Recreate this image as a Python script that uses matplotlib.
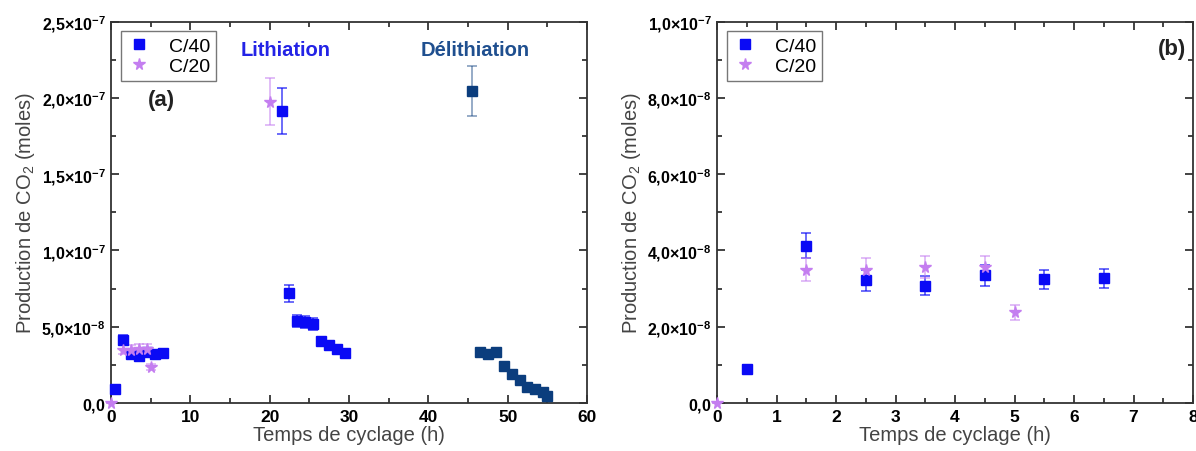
import numpy as np
import matplotlib
matplotlib.use("Agg")
import matplotlib.pyplot as plt
from matplotlib.ticker import MultipleLocator, FuncFormatter

plt.rcParams['font.family'] = ['Liberation Sans', 'DejaVu Sans']
plt.rcParams['mathtext.fontset'] = 'custom'
plt.rcParams['mathtext.rm'] = 'Liberation Sans'
plt.rcParams['mathtext.bf'] = 'Liberation Sans:bold'

# --- donnees (a) ---
t_c40 = [0.5, 1.5, 2.5, 3.5, 4.5, 5.5, 6.5, 21.5, 22.5, 23.5, 24.5, 25.5, 26.5, 27.5, 28.5, 29.5]
co2_c40 = [0.92e-8, 4.13e-8, 3.22e-8, 3.08e-8, 3.35e-8, 3.24e-8, 3.27e-8,
           1.915e-7, 7.2e-8, 5.4e-8, 5.3e-8, 5.2e-8, 4.05e-8, 3.8e-8, 3.55e-8, 3.3e-8]
err_c40 = [0.1e-8, 0.32e-8, 0.27e-8, 0.24e-8, 0.27e-8, 0.25e-8, 0.25e-8,
           1.5e-8, 0.55e-8, 0.4e-8, 0.4e-8, 0.4e-8, 0.2e-8, 0.15e-8, 0.15e-8, 0.15e-8]

t_c20 = [0.0, 1.5, 2.5, 3.5, 4.5, 5.0, 20.0]
co2_c20 = [0.0, 3.5e-8, 3.5e-8, 3.57e-8, 3.57e-8, 2.38e-8, 1.975e-7]
err_c20 = [0.0, 0.3e-8, 0.3e-8, 0.28e-8, 0.28e-8, 0.2e-8, 1.55e-8]

t_delith = [45.5, 46.5, 47.5, 48.5, 49.5, 50.5, 51.5, 52.5, 53.5, 54.5, 55.0]
co2_delith = [2.045e-7, 3.32e-8, 3.22e-8, 3.36e-8, 2.43e-8, 1.92e-8, 1.52e-8,
              1.07e-8, 0.9e-8, 0.75e-8, 0.48e-8]
err_delith = [1.65e-8, 0.1e-8, 0.1e-8, 0.1e-8, 0.1e-8, 0.1e-8, 0.1e-8,
              0.1e-8, 0.1e-8, 0.1e-8, 0.1e-8]

# --- donnees (b) ---
t_b40 = [0.5, 1.5, 2.5, 3.5, 4.5, 5.5, 6.5]
co2_b40 = [0.9e-8, 4.13e-8, 3.22e-8, 3.08e-8, 3.35e-8, 3.24e-8, 3.27e-8]
err_b40 = [0.1e-8, 0.32e-8, 0.27e-8, 0.24e-8, 0.27e-8, 0.25e-8, 0.25e-8]
t_b20 = [0.0, 1.5, 2.5, 3.5, 4.5, 5.0]
co2_b20 = [0.0, 3.5e-8, 3.5e-8, 3.57e-8, 3.57e-8, 2.38e-8]
err_b20 = [0.0, 0.3e-8, 0.3e-8, 0.28e-8, 0.28e-8, 0.2e-8]

blue = '#0a0af5'
violet = '#c47ef0'
navy = '#0b3d7d'


def sci(v, pos):
    if abs(v) < 1e-20:
        return r'$\mathbf{0{,}0}$'
    e = int(np.floor(np.log10(abs(v)) + 1e-9))
    m = v / 10 ** e
    s = ('%.1f' % m).replace('.', '{,}')
    return r'$\mathbf{%s{\times}10^{%d}}$' % (s, e)


def style(ax, xmaj, xmin, ymaj, ymin):
    ax.xaxis.set_major_locator(MultipleLocator(xmaj))
    ax.xaxis.set_minor_locator(MultipleLocator(xmin))
    ax.yaxis.set_major_locator(MultipleLocator(ymaj))
    ax.yaxis.set_minor_locator(MultipleLocator(ymin))
    ax.yaxis.set_major_formatter(FuncFormatter(sci))
    ax.tick_params(which='both', direction='in', top=True, right=True, width=1.2, color='#222222')
    ax.tick_params(which='major', length=6, labelsize=11.5, pad=4)
    ax.tick_params(axis='x', which='major', labelsize=12.5)
    ax.tick_params(which='minor', length=3.5)
    for lab in ax.get_xticklabels():
        lab.set_fontweight('bold')
    for sp in ax.spines.values():
        sp.set_linewidth(1.3)
        sp.set_color('#333333')
    ax.set_xlabel('Temps de cyclage (h)', fontsize=14.5, color='#444444', labelpad=1)
    ax.set_ylabel('Production de CO$_2$ (moles)', fontsize=14.5, color='#444444', labelpad=3)


def series(ax, x, y, e, color, marker, ms, label=None, ea=0.7):
    ax.errorbar(x, y, yerr=e, fmt='none', ecolor=color, alpha=ea, elinewidth=1.2,
                capsize=3.5, capthick=1.2, clip_on=False, zorder=2)
    ax.plot(x, y, linestyle='none', marker=marker, color=color, markersize=ms,
            label=label, clip_on=False, zorder=3)


def legend(ax):
    leg = ax.legend(loc='upper left', bbox_to_anchor=(0.02, 0.975), borderaxespad=0,
                    fontsize=14, frameon=True, fancybox=False, edgecolor='#555555',
                    handletextpad=0.9, borderpad=0.3, labelspacing=0.15, handlelength=1.3)
    leg.get_frame().set_linewidth(1.0)


fig = plt.figure(figsize=(11.96, 4.52), dpi=100)
ax1 = fig.add_axes([0.0928, 0.106, 0.398, 0.844])
ax2 = fig.add_axes([0.5995, 0.106, 0.398, 0.844])

series(ax1, t_c40, co2_c40, err_c40, blue, 's', 7, 'C/40')
series(ax1, t_c20, co2_c20, err_c20, violet, '*', 8.5, 'C/20', ea=0.6)
series(ax1, t_delith, co2_delith, err_delith, navy, 's', 7, ea=0.5)
ax1.set_xlim(0, 60)
ax1.set_ylim(0, 2.5e-7)
style(ax1, 10, 5, 5e-8, 2.5e-8)
ax1.text(0.105, 0.795, '(a)', transform=ax1.transAxes, fontsize=16, fontweight='bold',
         color='#222222', ha='center', va='center')
ax1.text(0.367, 0.928, 'Lithiation', transform=ax1.transAxes, fontsize=14.5, fontweight='bold',
         color='#2323e6', ha='center', va='center')
ax1.text(0.765, 0.928, 'Délithiation', transform=ax1.transAxes, fontsize=14.5, fontweight='bold',
         color='#1f4f8f', ha='center', va='center')
legend(ax1)

series(ax2, t_b40, co2_b40, err_b40, blue, 's', 7, 'C/40')
series(ax2, t_b20, co2_b20, err_b20, violet, '*', 8.5, 'C/20', ea=0.6)
ax2.set_xlim(0, 8)
ax2.set_ylim(0, 1.0e-7)
style(ax2, 1, 0.5, 2e-8, 1e-8)
ax2.text(0.985, 0.93, '(b)', transform=ax2.transAxes, fontsize=16, fontweight='bold',
         color='#222222', ha='right', va='center')
legend(ax2)

fig.savefig('out.png', dpi=100)
